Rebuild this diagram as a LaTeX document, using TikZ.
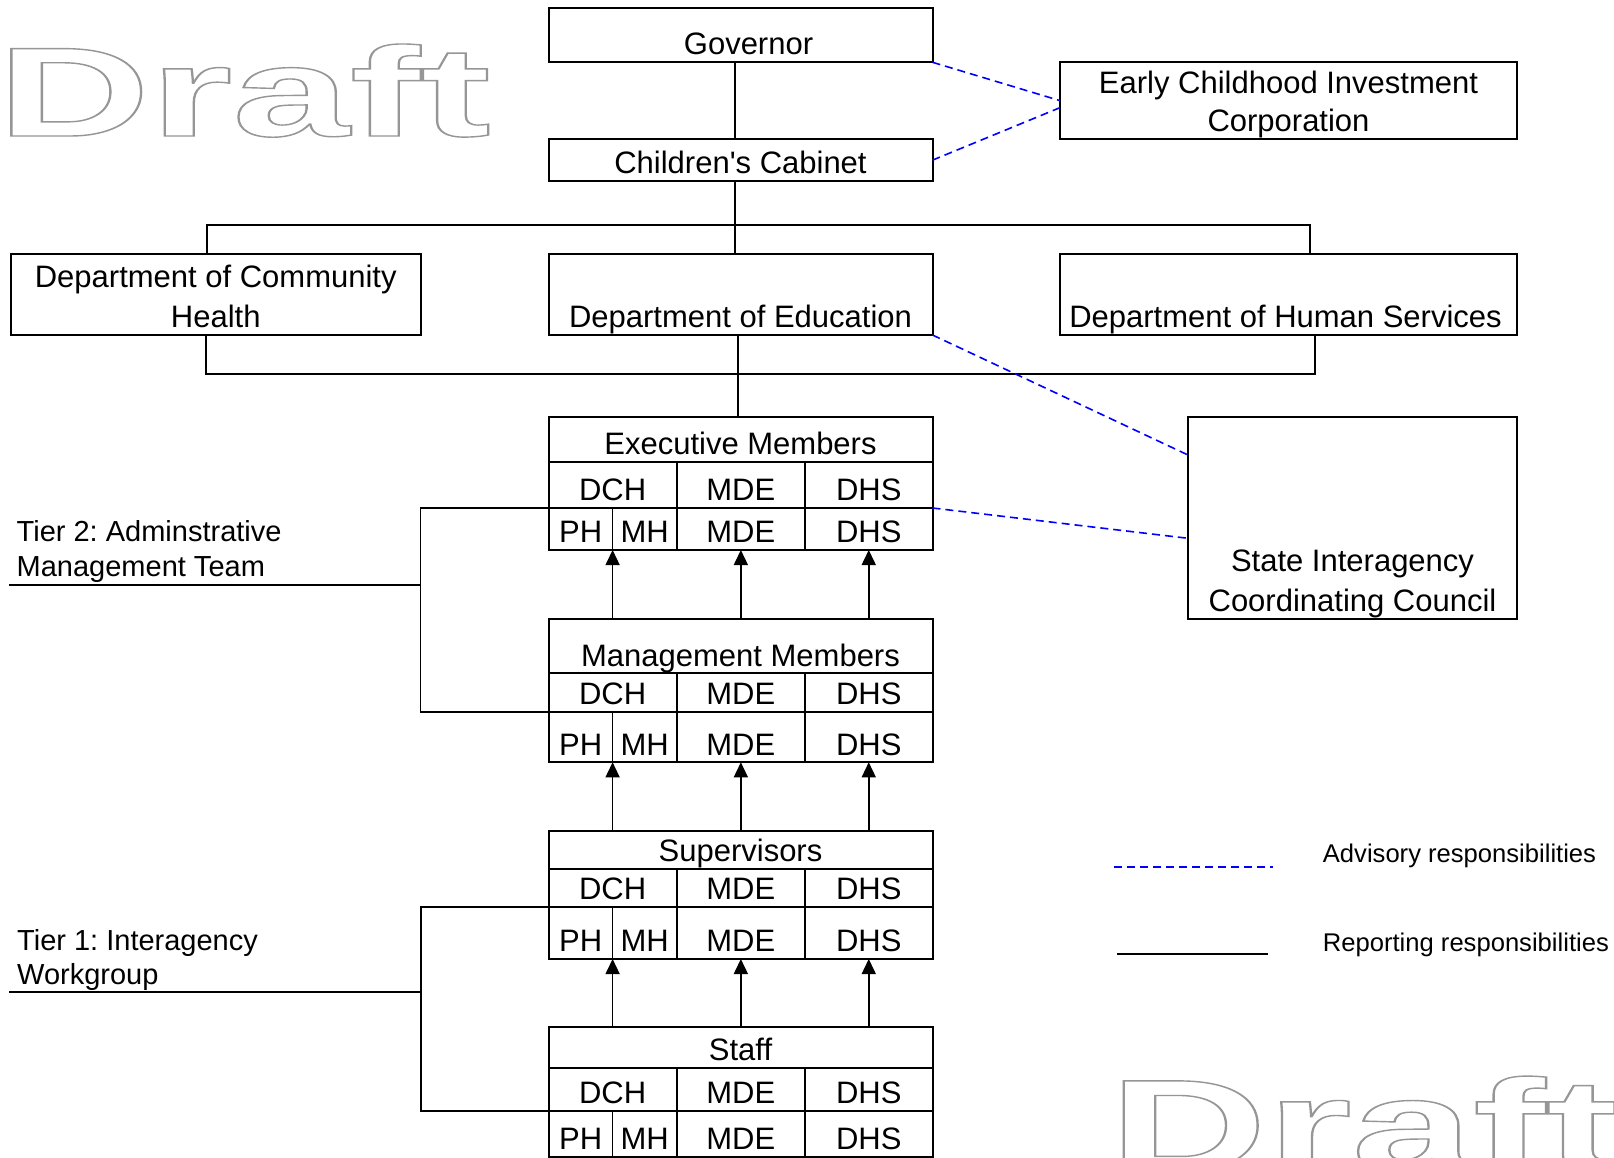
\documentclass[tikz,border=0pt]{standalone}
\usepackage{fontspec}
\setmainfont{Liberation Sans}
\usetikzlibrary{arrows.meta}
\frenchspacing
\tikzset{
  box/.style={draw, line width=2pt, inner sep=0pt, outer sep=0pt, anchor=north west},
  lbl/.style={font=\fontsize{31}{36}\selectfont, inner sep=0pt, anchor=base},
  tierlbl/.style={font=\fontsize{29}{34}\selectfont, inner sep=0pt, anchor=base west},
  keylbl/.style={font=\fontsize{25.6}{30}\selectfont, inner sep=0pt, anchor=base west},
  rep/.style={line width=1.8pt},
  adv/.style={blue, line width=1.6pt, dash pattern=on 8pt off 5pt},
  arr/.style={line width=1.5pt, -{Triangle[length=15pt,width=14pt]}},
  split/.style={line width=1pt},
  draft/.style={font=\fontsize{127}{130}\selectfont\bfseries, inner sep=0pt, anchor=base west}
}
\begin{document}
\begin{tikzpicture}[x=1pt,y=-1pt]
\path[fill=white, use as bounding box] (0,0) rectangle (1614,1158);

% watermarks
\node[draft] (draftA) at (-3,136) {\scalebox{1.666}[1]{\special{pdf:code 1 Tr 1.4 w 0.59 G}Draft\special{pdf:code 0 Tr 0 G}}};
\node[draft, font=\fontsize{131}{134}\selectfont\bfseries] (draftB) at (1109,1171) {\scalebox{1.666}[1]{\special{pdf:code 1 Tr 1.4 w 0.59 G}Draft\special{pdf:code 0 Tr 0 G}}};

% upper boxes
\node[box, minimum width=384pt, minimum height=54pt] (gov) at (548.5,8.3) {};
\node[box, minimum width=384pt, minimum height=41.7pt] (cab) at (548.5,139.3) {};
\node[box, minimum width=457pt, minimum height=76.7pt] (ecic) at (1060,62.3) {};
\node[box, minimum width=410.5pt, minimum height=80.7pt] (dch) at (10.5,254.3) {};
\node[box, minimum width=384pt, minimum height=80.7pt] (mde) at (548.5,254.3) {};
\node[box, minimum width=457pt, minimum height=80.7pt] (dhs) at (1060,254.3) {};
\node[box, minimum width=329pt, minimum height=202pt] (sicc) at (1188,416.7) {};

\node[lbl] (govtxt) at ([xshift=8pt,yshift=7.3pt]gov.south) {Governor};
\node[lbl] (cabtxt) at ([yshift=7pt]cab.south) {Children\textquotesingle s Cabinet};
\node[lbl] (ecictxtB) at ([yshift=7.3pt]ecic.south) {Corporation};
\node[lbl] (ecictxtA) at ([yshift=37.7pt]ecictxtB.base) {Early Childhood Investment};
\node[lbl] (dchtxtB) at ([yshift=7.7pt]dch.south) {Health};
\node[lbl] (dchtxtA) at ([yshift=40pt]dchtxtB.base) {Department of Community};
\node[lbl] (mdetxt) at ([yshift=7.7pt]mde.south) {Department of Education};
\node[lbl] (dhstxt) at ([xshift=-3pt,yshift=7.7pt]dhs.south) {Department of Human Services};
\node[lbl] (sicctxtB) at ([yshift=7pt]sicc.south) {Coordinating Council};
\node[lbl] (sicctxtA) at ([yshift=40pt]sicctxtB.base) {State Interagency};

% tiers
\foreach \tier/\ya/\yb/\yc/\yd/\title in {exec/416.7/462/508/550/Executive Members, mgmt/619/673.3/711.7/762.3/Management Members, sup/830.7/868.7/906.7/959/Supervisors, staff/1026.7/1068/1110.7/1156.7/Staff}{
  \node[box, minimum width=384pt, minimum height={(\yb-\ya)*1pt}] (\tier) at (548.5,\ya) {};
  \foreach \col/\x/\w in {dch/548.5/128.2, mde/676.7/128.3, dhs/805/127.5}{
    \node[box, minimum width=\w pt, minimum height={(\yc-\yb)*1pt}] (\tier-\col) at (\x,\yb) {};
    \node[box, minimum width=\w pt, minimum height={(\yd-\yc)*1pt}] (\tier-\col3) at (\x,\yc) {};
  }
  \node[lbl] (\tier-title) at ([yshift=7.3pt]\tier.south) {\title};
  \node[lbl] (\tier-dchtxt) at ([yshift=7.3pt]\tier-dch.south) {DCH};
  \node[lbl] (\tier-mdetxt) at ([yshift=7.3pt]\tier-mde.south) {MDE};
  \node[lbl] (\tier-dhstxt) at ([yshift=7.3pt]\tier-dhs.south) {DHS};
  \node[lbl] (\tier-phtxt) at ([xshift=-32pt,yshift=7.3pt]\tier-dch3.south) {PH};
  \node[lbl] (\tier-mhtxt) at ([xshift=32pt,yshift=7.3pt]\tier-dch3.south) {MH};
  \node[lbl] (\tier-mde3txt) at ([yshift=7.3pt]\tier-mde3.south) {MDE};
  \node[lbl] (\tier-dhs3txt) at ([yshift=7.3pt]\tier-dhs3.south) {DHS};
  \draw[split] (\tier-dch3.north) -- (\tier-dch3.south);
}

% reporting lines
\draw[rep] ([xshift=-5.5pt]gov.south) -- ([xshift=-5.5pt]cab.north);
\draw[rep] ([xshift=-5.5pt]cab.south) -- ([xshift=-5.5pt]mde.north);
\draw[rep] ([xshift=-8.75pt]dch.north) -- ++(0,-29.3) -| ([xshift=21.5pt]dhs.north);
\draw[rep] ([xshift=-9.75pt]dch.south) -- ++(0,39.3) -| ([xshift=26.5pt]dhs.south);
\draw[rep] ([xshift=-2.5pt]mde.south) -- ([xshift=-2.5pt]exec.north);

\foreach \lo/\hi in {mgmt/exec, sup/mgmt, staff/sup}
  \foreach \col in {dch, mde, dhs}
    \draw[arr] (\lo.north -| \hi-\col3.south) -- (\hi-\col3.south);

% tier brackets
\draw[rep] (exec-dch.south west) -- ++(-128,0) |- (mgmt-dch.south west);
\draw[rep] (sup-dch.south west) -- ++(-127.7,0) |- (staff-dch.south west);
\coordinate (tier2key) at (9,584.7);
\draw[rep] (tier2key) -- ++(411.5,0);
\coordinate (tier1key) at (9,992.3);
\draw[rep] (tier1key) -- ++(411.8,0);
\node[tierlbl] (tier2a) at (16.5,541.7) {Tier 2: Adminstrative};
\node[tierlbl] (tier2b) at (16.5,576.7) {Management Team};
\node[tierlbl] (tier1a) at (17,950) {Tier 1: Interagency};
\node[tierlbl] (tier1b) at (17,984) {Workgroup};

% advisory lines
\draw[adv] (gov.south east) -- (ecic.west);
\draw[adv] (cab.east) -- ([yshift=-7pt]ecic.west);
\draw[adv] (mde.south east) -- ([yshift=62.7pt]sicc.west);
\draw[adv] (exec-dhs.south east) -- ([yshift=-20.6pt]sicc.west);

% key
\coordinate (advA) at (1114,867);
\coordinate (advB) at (1273,867);
\draw[adv] (advA) -- (advB);
\coordinate (repA) at (1117,954);
\coordinate (repB) at (1268,954);
\draw[rep, line width=2pt] (repA) -- (repB);
\node[keylbl] (advtxt) at (1322.7,862.7) {Advisory responsibilities};
\node[keylbl] (reptxt) at (1322.7,951.7) {Reporting responsibilities};
\end{tikzpicture}
\end{document}
